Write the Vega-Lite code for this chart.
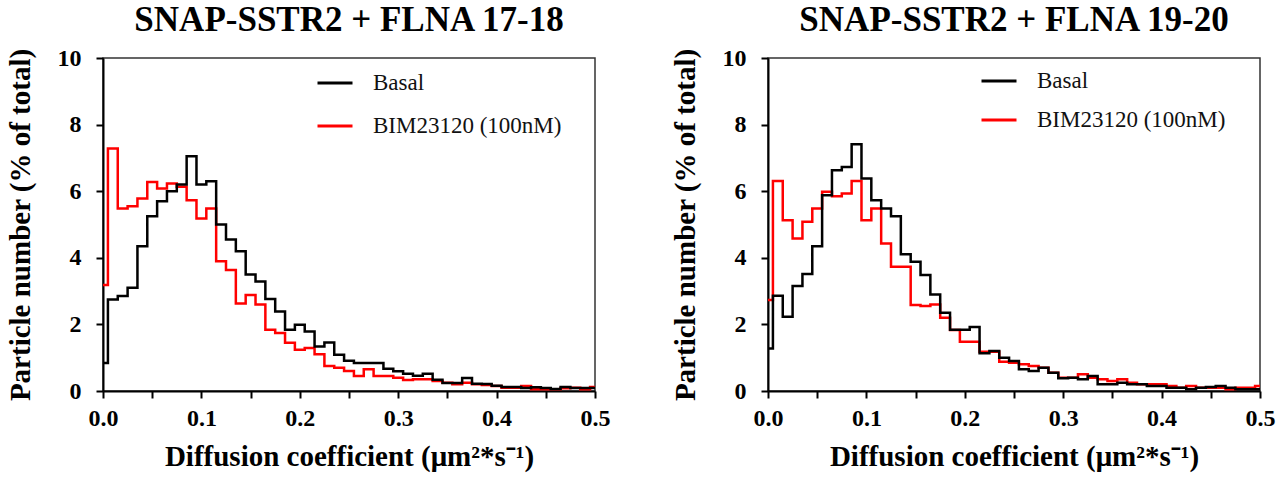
{
  "$schema": "https://vega.github.io/schema/vega-lite/v6.json",
  "background": "white",
  "padding": {"left": 5, "top": 2, "right": 5, "bottom": 5},
  "datasets": {
    "d": [
      {"p":1,"s":"BIM23120 (100nM)","x":0,"y":3.18},{"p":1,"s":"BIM23120 (100nM)","x":0.01,"y":7.28},{"p":1,"s":"BIM23120 (100nM)","x":0.02,"y":5.48},{"p":1,"s":"BIM23120 (100nM)","x":0.03,"y":5.55},{"p":1,"s":"BIM23120 (100nM)","x":0.04,"y":5.78},{"p":1,"s":"BIM23120 (100nM)","x":0.05,"y":6.28},{"p":1,"s":"BIM23120 (100nM)","x":0.06,"y":6.08},{"p":1,"s":"BIM23120 (100nM)","x":0.07,"y":6.23},{"p":1,"s":"BIM23120 (100nM)","x":0.08,"y":6.13},{"p":1,"s":"BIM23120 (100nM)","x":0.09,"y":5.73},
      {"p":1,"s":"BIM23120 (100nM)","x":0.1,"y":5.18},{"p":1,"s":"BIM23120 (100nM)","x":0.11,"y":5.48},{"p":1,"s":"BIM23120 (100nM)","x":0.12,"y":3.9},{"p":1,"s":"BIM23120 (100nM)","x":0.13,"y":3.63},{"p":1,"s":"BIM23120 (100nM)","x":0.14,"y":2.63},{"p":1,"s":"BIM23120 (100nM)","x":0.15,"y":2.88},{"p":1,"s":"BIM23120 (100nM)","x":0.16,"y":2.6},{"p":1,"s":"BIM23120 (100nM)","x":0.17,"y":1.84},{"p":1,"s":"BIM23120 (100nM)","x":0.18,"y":1.74},{"p":1,"s":"BIM23120 (100nM)","x":0.19,"y":1.45},
      {"p":1,"s":"BIM23120 (100nM)","x":0.2,"y":1.24},{"p":1,"s":"BIM23120 (100nM)","x":0.21,"y":1.29},{"p":1,"s":"BIM23120 (100nM)","x":0.22,"y":1.1},{"p":1,"s":"BIM23120 (100nM)","x":0.23,"y":0.75},{"p":1,"s":"BIM23120 (100nM)","x":0.24,"y":0.7},{"p":1,"s":"BIM23120 (100nM)","x":0.25,"y":0.6},{"p":1,"s":"BIM23120 (100nM)","x":0.26,"y":0.45},{"p":1,"s":"BIM23120 (100nM)","x":0.27,"y":0.65},{"p":1,"s":"BIM23120 (100nM)","x":0.28,"y":0.45},{"p":1,"s":"BIM23120 (100nM)","x":0.29,"y":0.45},
      {"p":1,"s":"BIM23120 (100nM)","x":0.3,"y":0.4},{"p":1,"s":"BIM23120 (100nM)","x":0.31,"y":0.33},{"p":1,"s":"BIM23120 (100nM)","x":0.32,"y":0.35},{"p":1,"s":"BIM23120 (100nM)","x":0.33,"y":0.35},{"p":1,"s":"BIM23120 (100nM)","x":0.34,"y":0.3},{"p":1,"s":"BIM23120 (100nM)","x":0.35,"y":0.25},{"p":1,"s":"BIM23120 (100nM)","x":0.36,"y":0.2},{"p":1,"s":"BIM23120 (100nM)","x":0.37,"y":0.25},{"p":1,"s":"BIM23120 (100nM)","x":0.38,"y":0.2},{"p":1,"s":"BIM23120 (100nM)","x":0.39,"y":0.18},
      {"p":1,"s":"BIM23120 (100nM)","x":0.4,"y":0.15},{"p":1,"s":"BIM23120 (100nM)","x":0.41,"y":0.1},{"p":1,"s":"BIM23120 (100nM)","x":0.42,"y":0.1},{"p":1,"s":"BIM23120 (100nM)","x":0.43,"y":0.15},{"p":1,"s":"BIM23120 (100nM)","x":0.44,"y":0.05},{"p":1,"s":"BIM23120 (100nM)","x":0.45,"y":0.05},{"p":1,"s":"BIM23120 (100nM)","x":0.46,"y":0.05},{"p":1,"s":"BIM23120 (100nM)","x":0.47,"y":0.08},{"p":1,"s":"BIM23120 (100nM)","x":0.48,"y":0.1},{"p":1,"s":"BIM23120 (100nM)","x":0.49,"y":0.05},{"p":1,"s":"BIM23120 (100nM)","x":0.5,"y":0.12},

      {"p":1,"s":"Basal","x":0,"y":0.84},{"p":1,"s":"Basal","x":0.01,"y":2.75},{"p":1,"s":"Basal","x":0.02,"y":2.85},{"p":1,"s":"Basal","x":0.03,"y":3.1},{"p":1,"s":"Basal","x":0.04,"y":4.35},{"p":1,"s":"Basal","x":0.05,"y":5.25},{"p":1,"s":"Basal","x":0.06,"y":5.7},{"p":1,"s":"Basal","x":0.07,"y":6.0},{"p":1,"s":"Basal","x":0.08,"y":6.2},{"p":1,"s":"Basal","x":0.09,"y":7.05},
      {"p":1,"s":"Basal","x":0.1,"y":6.2},{"p":1,"s":"Basal","x":0.11,"y":6.3},{"p":1,"s":"Basal","x":0.12,"y":5.0},{"p":1,"s":"Basal","x":0.13,"y":4.55},{"p":1,"s":"Basal","x":0.14,"y":4.2},{"p":1,"s":"Basal","x":0.15,"y":3.5},{"p":1,"s":"Basal","x":0.16,"y":3.29},{"p":1,"s":"Basal","x":0.17,"y":2.76},{"p":1,"s":"Basal","x":0.18,"y":2.39},{"p":1,"s":"Basal","x":0.19,"y":1.84},
      {"p":1,"s":"Basal","x":0.2,"y":1.99},{"p":1,"s":"Basal","x":0.21,"y":1.79},{"p":1,"s":"Basal","x":0.22,"y":1.34},{"p":1,"s":"Basal","x":0.23,"y":1.46},{"p":1,"s":"Basal","x":0.24,"y":1.09},{"p":1,"s":"Basal","x":0.25,"y":0.91},{"p":1,"s":"Basal","x":0.26,"y":0.84},{"p":1,"s":"Basal","x":0.27,"y":0.84},{"p":1,"s":"Basal","x":0.28,"y":0.84},{"p":1,"s":"Basal","x":0.29,"y":0.67},
      {"p":1,"s":"Basal","x":0.3,"y":0.59},{"p":1,"s":"Basal","x":0.31,"y":0.52},{"p":1,"s":"Basal","x":0.32,"y":0.46},{"p":1,"s":"Basal","x":0.33,"y":0.52},{"p":1,"s":"Basal","x":0.34,"y":0.34},{"p":1,"s":"Basal","x":0.35,"y":0.24},{"p":1,"s":"Basal","x":0.36,"y":0.24},{"p":1,"s":"Basal","x":0.37,"y":0.39},{"p":1,"s":"Basal","x":0.38,"y":0.22},{"p":1,"s":"Basal","x":0.39,"y":0.21},
      {"p":1,"s":"Basal","x":0.4,"y":0.16},{"p":1,"s":"Basal","x":0.41,"y":0.12},{"p":1,"s":"Basal","x":0.42,"y":0.12},{"p":1,"s":"Basal","x":0.43,"y":0.09},{"p":1,"s":"Basal","x":0.44,"y":0.11},{"p":1,"s":"Basal","x":0.45,"y":0.09},{"p":1,"s":"Basal","x":0.46,"y":0.06},{"p":1,"s":"Basal","x":0.47,"y":0.12},{"p":1,"s":"Basal","x":0.48,"y":0.09},{"p":1,"s":"Basal","x":0.49,"y":0.09},{"p":1,"s":"Basal","x":0.5,"y":0.09},

      {"p":2,"s":"BIM23120 (100nM)","x":0,"y":2.73},{"p":2,"s":"BIM23120 (100nM)","x":0.01,"y":6.31},{"p":2,"s":"BIM23120 (100nM)","x":0.02,"y":5.13},{"p":2,"s":"BIM23120 (100nM)","x":0.03,"y":4.58},{"p":2,"s":"BIM23120 (100nM)","x":0.04,"y":5.08},{"p":2,"s":"BIM23120 (100nM)","x":0.05,"y":5.48},{"p":2,"s":"BIM23120 (100nM)","x":0.06,"y":5.98},{"p":2,"s":"BIM23120 (100nM)","x":0.07,"y":5.85},{"p":2,"s":"BIM23120 (100nM)","x":0.08,"y":5.93},{"p":2,"s":"BIM23120 (100nM)","x":0.09,"y":6.31},
      {"p":2,"s":"BIM23120 (100nM)","x":0.1,"y":5.13},{"p":2,"s":"BIM23120 (100nM)","x":0.11,"y":5.48},{"p":2,"s":"BIM23120 (100nM)","x":0.12,"y":4.43},{"p":2,"s":"BIM23120 (100nM)","x":0.13,"y":3.73},{"p":2,"s":"BIM23120 (100nM)","x":0.14,"y":3.73},{"p":2,"s":"BIM23120 (100nM)","x":0.15,"y":2.58},{"p":2,"s":"BIM23120 (100nM)","x":0.16,"y":2.55},{"p":2,"s":"BIM23120 (100nM)","x":0.17,"y":2.6},{"p":2,"s":"BIM23120 (100nM)","x":0.18,"y":2.2},{"p":2,"s":"BIM23120 (100nM)","x":0.19,"y":1.83},
      {"p":2,"s":"BIM23120 (100nM)","x":0.2,"y":1.48},{"p":2,"s":"BIM23120 (100nM)","x":0.21,"y":1.48},{"p":2,"s":"BIM23120 (100nM)","x":0.22,"y":1.18},{"p":2,"s":"BIM23120 (100nM)","x":0.23,"y":1.18},{"p":2,"s":"BIM23120 (100nM)","x":0.24,"y":0.88},{"p":2,"s":"BIM23120 (100nM)","x":0.25,"y":0.85},{"p":2,"s":"BIM23120 (100nM)","x":0.26,"y":0.8},{"p":2,"s":"BIM23120 (100nM)","x":0.27,"y":0.75},{"p":2,"s":"BIM23120 (100nM)","x":0.28,"y":0.7},{"p":2,"s":"BIM23120 (100nM)","x":0.29,"y":0.55},
      {"p":2,"s":"BIM23120 (100nM)","x":0.3,"y":0.4},{"p":2,"s":"BIM23120 (100nM)","x":0.31,"y":0.4},{"p":2,"s":"BIM23120 (100nM)","x":0.32,"y":0.5},{"p":2,"s":"BIM23120 (100nM)","x":0.33,"y":0.4},{"p":2,"s":"BIM23120 (100nM)","x":0.34,"y":0.35},{"p":2,"s":"BIM23120 (100nM)","x":0.35,"y":0.3},{"p":2,"s":"BIM23120 (100nM)","x":0.36,"y":0.35},{"p":2,"s":"BIM23120 (100nM)","x":0.37,"y":0.25},{"p":2,"s":"BIM23120 (100nM)","x":0.38,"y":0.2},{"p":2,"s":"BIM23120 (100nM)","x":0.39,"y":0.2},
      {"p":2,"s":"BIM23120 (100nM)","x":0.4,"y":0.2},{"p":2,"s":"BIM23120 (100nM)","x":0.41,"y":0.15},{"p":2,"s":"BIM23120 (100nM)","x":0.42,"y":0.1},{"p":2,"s":"BIM23120 (100nM)","x":0.43,"y":0.15},{"p":2,"s":"BIM23120 (100nM)","x":0.44,"y":0.1},{"p":2,"s":"BIM23120 (100nM)","x":0.45,"y":0.1},{"p":2,"s":"BIM23120 (100nM)","x":0.46,"y":0.1},{"p":2,"s":"BIM23120 (100nM)","x":0.47,"y":0.05},{"p":2,"s":"BIM23120 (100nM)","x":0.48,"y":0.1},{"p":2,"s":"BIM23120 (100nM)","x":0.49,"y":0.1},{"p":2,"s":"BIM23120 (100nM)","x":0.5,"y":0.15},

      {"p":2,"s":"Basal","x":0,"y":1.28},{"p":2,"s":"Basal","x":0.01,"y":2.86},{"p":2,"s":"Basal","x":0.02,"y":2.23},{"p":2,"s":"Basal","x":0.03,"y":3.15},{"p":2,"s":"Basal","x":0.04,"y":3.51},{"p":2,"s":"Basal","x":0.05,"y":4.35},{"p":2,"s":"Basal","x":0.06,"y":5.88},{"p":2,"s":"Basal","x":0.07,"y":6.63},{"p":2,"s":"Basal","x":0.08,"y":6.73},{"p":2,"s":"Basal","x":0.09,"y":7.41},
      {"p":2,"s":"Basal","x":0.1,"y":6.38},{"p":2,"s":"Basal","x":0.11,"y":5.73},{"p":2,"s":"Basal","x":0.12,"y":5.48},{"p":2,"s":"Basal","x":0.13,"y":5.25},{"p":2,"s":"Basal","x":0.14,"y":4.11},{"p":2,"s":"Basal","x":0.15,"y":3.88},{"p":2,"s":"Basal","x":0.16,"y":3.48},{"p":2,"s":"Basal","x":0.17,"y":2.9},{"p":2,"s":"Basal","x":0.18,"y":2.35},{"p":2,"s":"Basal","x":0.19,"y":1.84},
      {"p":2,"s":"Basal","x":0.2,"y":1.84},{"p":2,"s":"Basal","x":0.21,"y":1.92},{"p":2,"s":"Basal","x":0.22,"y":1.13},{"p":2,"s":"Basal","x":0.23,"y":1.2},{"p":2,"s":"Basal","x":0.24,"y":1.0},{"p":2,"s":"Basal","x":0.25,"y":0.9},{"p":2,"s":"Basal","x":0.26,"y":0.65},{"p":2,"s":"Basal","x":0.27,"y":0.6},{"p":2,"s":"Basal","x":0.28,"y":0.7},{"p":2,"s":"Basal","x":0.29,"y":0.55},
      {"p":2,"s":"Basal","x":0.3,"y":0.38},{"p":2,"s":"Basal","x":0.31,"y":0.4},{"p":2,"s":"Basal","x":0.32,"y":0.35},{"p":2,"s":"Basal","x":0.33,"y":0.45},{"p":2,"s":"Basal","x":0.34,"y":0.2},{"p":2,"s":"Basal","x":0.35,"y":0.2},{"p":2,"s":"Basal","x":0.36,"y":0.25},{"p":2,"s":"Basal","x":0.37,"y":0.2},{"p":2,"s":"Basal","x":0.38,"y":0.2},{"p":2,"s":"Basal","x":0.39,"y":0.15},
      {"p":2,"s":"Basal","x":0.4,"y":0.15},{"p":2,"s":"Basal","x":0.41,"y":0.1},{"p":2,"s":"Basal","x":0.42,"y":0.1},{"p":2,"s":"Basal","x":0.43,"y":0.05},{"p":2,"s":"Basal","x":0.44,"y":0.1},{"p":2,"s":"Basal","x":0.45,"y":0.12},{"p":2,"s":"Basal","x":0.46,"y":0.15},{"p":2,"s":"Basal","x":0.47,"y":0.1},{"p":2,"s":"Basal","x":0.48,"y":0.05},{"p":2,"s":"Basal","x":0.49,"y":0.05},{"p":2,"s":"Basal","x":0.5,"y":0.05}
    ]
  },
  "data": {"name": "d"},
  "spacing": 59,
  "resolve": {"scale": {"color": "independent"}, "legend": {"color": "independent"}},
  "hconcat": [
    {
      "title": "SNAP-SSTR2 + FLNA 17-18",
      "width": 492,
      "height": 333,
      "transform": [{"filter": "datum.p == 1"}],
      "mark": {"type": "line", "interpolate": "step", "strokeWidth": 2.5, "strokeJoin": "miter", "strokeCap": "butt"},
      "encoding": {
        "x": {"field": "x", "type": "quantitative", "scale": {"domain": [0, 0.5], "nice": false},
              "axis": {"values": [0,0.05,0.1,0.15,0.2,0.25,0.3,0.35,0.4,0.45,0.5], "labelExpr": "abs(datum.value*10 - round(datum.value*10)) < 0.001 ? format(datum.value, '.1f') : ''", "title": "Diffusion coefficient (μm²*s⁻¹)"}},
        "y": {"field": "y", "type": "quantitative", "scale": {"domain": [0, 10], "nice": false},
              "axis": {"values": [0,2,4,6,8,10], "title": "Particle number (% of total)"}},
        "color": {"field": "s", "type": "nominal",
                  "scale": {"domain": ["Basal", "BIM23120 (100nM)"], "range": ["#000000", "#ff0000"]},
                  "legend": {"orient": "none", "legendX": 213, "legendY": 6, "title": null, "rowPadding": 12}},
        "order": {"field": "x", "type": "quantitative"}
      }
    },
    {
      "title": "SNAP-SSTR2 + FLNA 19-20",
      "width": 492,
      "height": 333,
      "transform": [{"filter": "datum.p == 2"}],
      "mark": {"type": "line", "interpolate": "step", "strokeWidth": 2.5, "strokeJoin": "miter", "strokeCap": "butt"},
      "encoding": {
        "x": {"field": "x", "type": "quantitative", "scale": {"domain": [0, 0.5], "nice": false},
              "axis": {"values": [0,0.05,0.1,0.15,0.2,0.25,0.3,0.35,0.4,0.45,0.5], "labelExpr": "abs(datum.value*10 - round(datum.value*10)) < 0.001 ? format(datum.value, '.1f') : ''", "title": "Diffusion coefficient (μm²*s⁻¹)"}},
        "y": {"field": "y", "type": "quantitative", "scale": {"domain": [0, 10], "nice": false},
              "axis": {"values": [0,2,4,6,8,10], "title": "Particle number (% of total)"}},
        "color": {"field": "s", "type": "nominal",
                  "scale": {"domain": ["Basal", "BIM23120 (100nM)"], "range": ["#000000", "#ff0000"]},
                  "legend": {"orient": "none", "legendX": 212, "legendY": 4, "title": null, "rowPadding": 8}},
        "order": {"field": "x", "type": "quantitative"}
      }
    }
  ],
  "config": {
    "font": "Liberation Serif",
    "view": {"stroke": "#333333", "strokeWidth": 1.5},
    "title": {"font": "Liberation Serif", "fontSize": 35, "fontWeight": "bold", "color": "#000000", "anchor": "middle", "offset": 8},
    "axis": {
      "grid": false,
      "domainColor": "#000000", "domainWidth": 2,
      "tickColor": "#000000", "tickWidth": 2, "tickSize": 7,
      "labelFont": "Liberation Serif", "labelFontSize": 24, "labelFontWeight": "bold", "labelColor": "#000000",
      "titleFont": "Liberation Serif", "titleFontSize": 29, "titleFontWeight": "bold", "titleColor": "#000000"
    },
    "axisX": {"labelPadding": 8, "titlePadding": 12, "labelFlush": false},
    "axisY": {"labelPadding": 15, "titlePadding": 22},
    "legend": {
      "symbolType": "stroke", "symbolSize": 1225, "symbolStrokeWidth": 3,
      "labelFont": "Liberation Serif", "labelFontSize": 23, "labelColor": "#111111", "labelLimit": 0,
      "labelOffset": 19, "padding": 0
    }
  }
}
